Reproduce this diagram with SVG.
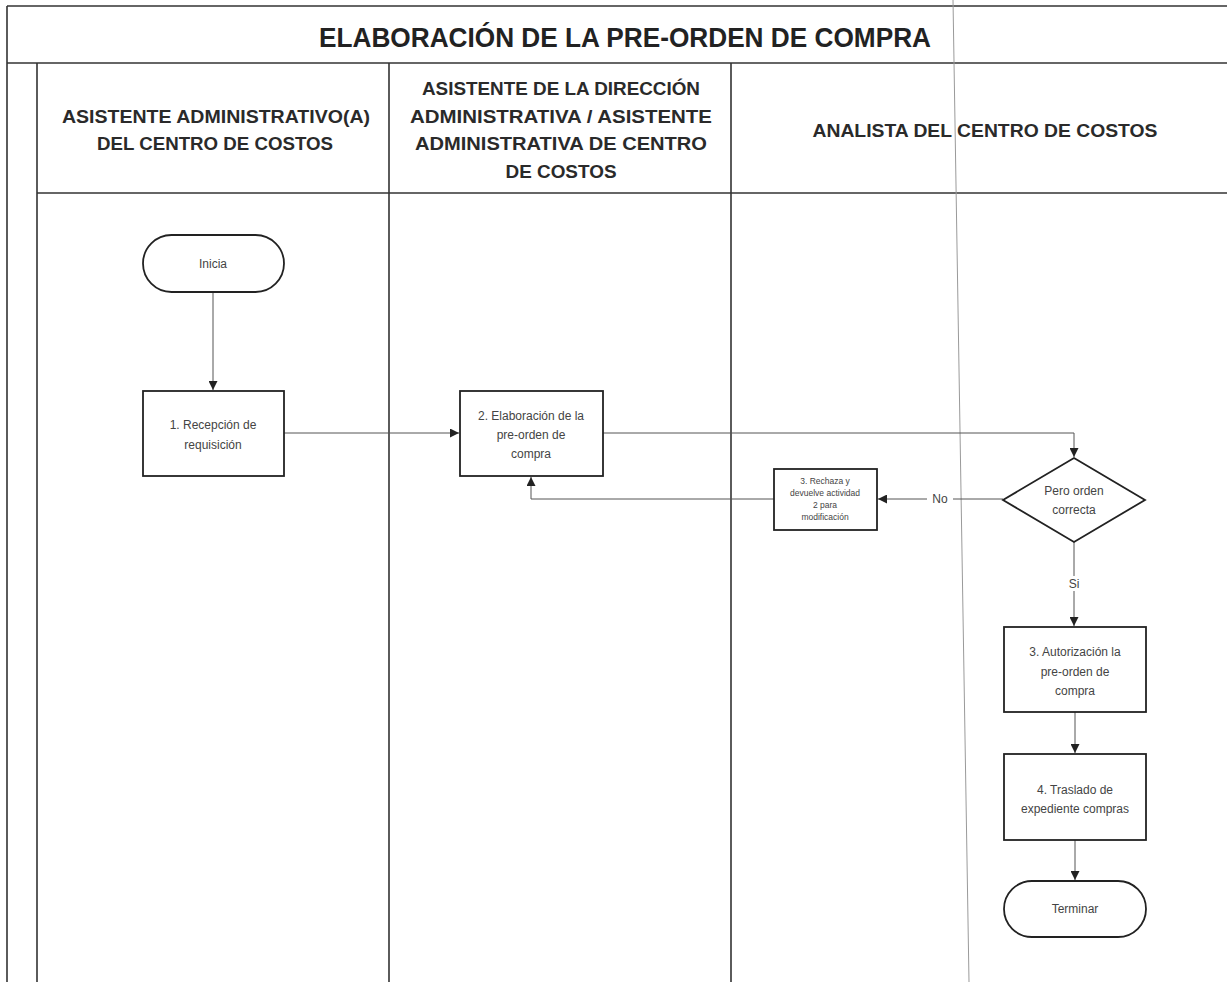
<svg xmlns="http://www.w3.org/2000/svg" width="1227" height="982" viewBox="0 0 1227 982">
<defs>
<marker id="arr" viewBox="0 0 10 10" refX="10" refY="5" markerWidth="9" markerHeight="9" markerUnits="userSpaceOnUse" orient="auto">
<path d="M0,0 L10,5 L0,10 z" fill="#222"/>
</marker>
<style>
.frame{stroke:#333;stroke-width:1.6;fill:none}
.title{font-family:"Liberation Sans",Arial,sans-serif;font-weight:bold;font-size:27px;fill:#222;text-anchor:middle}
.hdr{font-family:"Liberation Sans",Arial,sans-serif;font-weight:bold;font-size:18px;fill:#2a2a2a;text-anchor:middle}
.box{fill:#fff;stroke:#222;stroke-width:1.8}
.lbl{font-family:"Liberation Sans",Arial,sans-serif;font-size:12px;fill:#444;text-anchor:middle}
.sm{font-family:"Liberation Sans",Arial,sans-serif;font-size:8.5px;fill:#444;text-anchor:middle}
.con{stroke:#555;stroke-width:1;fill:none}
.clbl{font-family:"Liberation Sans",Arial,sans-serif;font-size:12px;fill:#444;text-anchor:middle}
</style>
</defs>
<rect width="1227" height="982" fill="#fff"/>
<g id="frame">
<line class="frame" x1="7" y1="6" x2="1227" y2="6"/>
<line class="frame" x1="7" y1="63" x2="1227" y2="63"/>
<line class="frame" x1="37" y1="193" x2="1227" y2="193"/>
<line class="frame" x1="7" y1="6" x2="7" y2="982"/>
<line class="frame" x1="37" y1="63" x2="37" y2="982"/>
<line class="frame" x1="389" y1="63" x2="389" y2="982"/>
<line class="frame" x1="731" y1="63" x2="731" y2="982"/>
<line x1="953" y1="0" x2="969" y2="982" stroke="#9a9a9a" stroke-width="1"/>
</g>
<g id="title">
<text class="title" x="625" y="47" textLength="612" lengthAdjust="spacingAndGlyphs">ELABORACIÓN DE LA PRE-ORDEN DE COMPRA</text>
</g>
<g id="lane-headers">
<text class="hdr" x="216" y="123" textLength="308" lengthAdjust="spacingAndGlyphs">ASISTENTE ADMINISTRATIVO(A)</text>
<text class="hdr" x="215" y="150" textLength="236" lengthAdjust="spacingAndGlyphs">DEL CENTRO DE COSTOS</text>
<text class="hdr" x="561" y="95" textLength="278" lengthAdjust="spacingAndGlyphs">ASISTENTE DE LA DIRECCIÓN</text>
<text class="hdr" x="561" y="123" textLength="302" lengthAdjust="spacingAndGlyphs">ADMINISTRATIVA / ASISTENTE</text>
<text class="hdr" x="561" y="150" textLength="292" lengthAdjust="spacingAndGlyphs">ADMINISTRATIVA DE CENTRO</text>
<text class="hdr" x="561" y="178" textLength="111" lengthAdjust="spacingAndGlyphs">DE COSTOS</text>
<text class="hdr" x="985" y="137" textLength="345" lengthAdjust="spacingAndGlyphs">ANALISTA DEL CENTRO DE COSTOS</text>
</g>
<g id="connectors">
<line class="con" x1="213" y1="292" x2="213" y2="390" marker-end="url(#arr)"/>
<line class="con" x1="284" y1="433" x2="459" y2="433" marker-end="url(#arr)"/>
<polyline class="con" points="603,433 1074,433 1074,457" marker-end="url(#arr)"/>
<line class="con" x1="1003" y1="499" x2="878" y2="499" marker-end="url(#arr)"/>
<rect x="927" y="491" width="26" height="16" fill="#fff"/>
<text class="clbl" x="940" y="503">No</text>
<polyline class="con" points="774,499 531,499 531,477" marker-end="url(#arr)"/>
<line class="con" x1="1074" y1="542" x2="1074" y2="626" marker-end="url(#arr)"/>
<rect x="1066" y="576" width="16" height="15" fill="#fff"/>
<text class="clbl" x="1074" y="588">Si</text>
<line class="con" x1="1075" y1="712" x2="1075" y2="753" marker-end="url(#arr)"/>
<line class="con" x1="1075" y1="840" x2="1075" y2="880" marker-end="url(#arr)"/>
</g>
<g id="inicia">
<rect class="box" x="143" y="235" width="141" height="57" rx="28.5"/>
<text class="lbl" x="213" y="268">Inicia</text>
</g>
<g id="n1">
<rect class="box" x="143" y="391" width="141" height="85"/>
<text class="lbl" x="213" y="429">1. Recepción de</text>
<text class="lbl" x="213" y="449">requisición</text>
</g>
<g id="n2">
<rect class="box" x="460" y="391" width="143" height="85"/>
<text class="lbl" x="531" y="420">2. Elaboración de la</text>
<text class="lbl" x="531" y="439">pre-orden de</text>
<text class="lbl" x="531" y="458">compra</text>
</g>
<g id="decision">
<polygon class="box" points="1074,458 1145,500 1074,542 1003,500"/>
<text class="lbl" x="1074" y="495">Pero orden</text>
<text class="lbl" x="1074" y="514">correcta</text>
</g>
<g id="n3-rechaza">
<rect class="box" x="774" y="469" width="103" height="61"/>
<text class="sm" x="825" y="484">3. Rechaza y</text>
<text class="sm" x="825" y="496">devuelve actividad</text>
<text class="sm" x="825" y="508">2 para</text>
<text class="sm" x="825" y="520">modificación</text>
</g>
<g id="n3-autorizacion">
<rect class="box" x="1004" y="627" width="142" height="85"/>
<text class="lbl" x="1075" y="656">3. Autorización la</text>
<text class="lbl" x="1075" y="676">pre-orden de</text>
<text class="lbl" x="1075" y="695">compra</text>
</g>
<g id="n4">
<rect class="box" x="1004" y="754" width="142" height="86"/>
<text class="lbl" x="1075" y="794">4. Traslado de</text>
<text class="lbl" x="1075" y="813">expediente compras</text>
</g>
<g id="terminar">
<rect class="box" x="1004" y="881" width="142" height="56" rx="28"/>
<text class="lbl" x="1075" y="913">Terminar</text>
</g>
</svg>
